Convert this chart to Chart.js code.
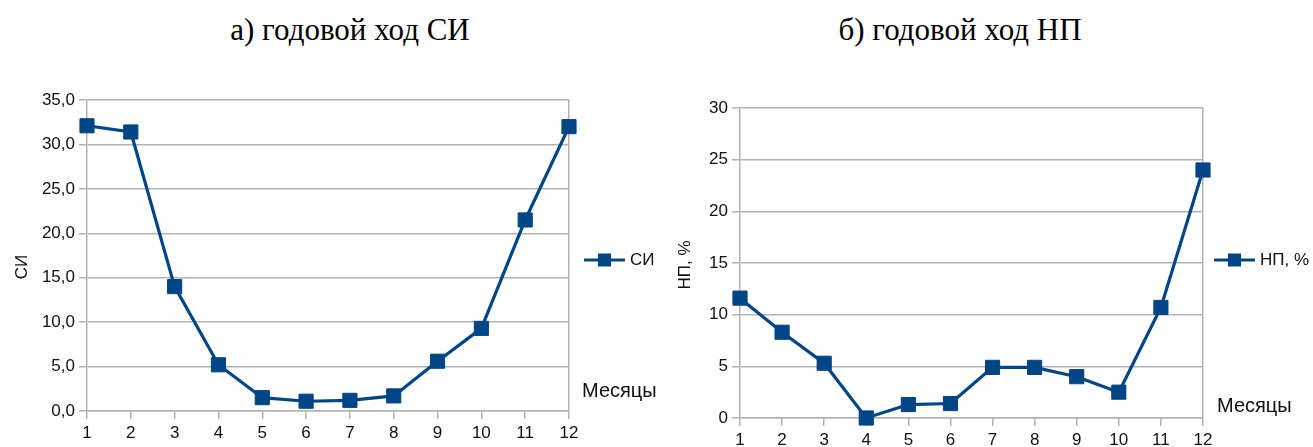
<!DOCTYPE html>
<html>
<head>
<meta charset="utf-8">
<script src="https://cdn.jsdelivr.net/npm/chart.js@4.4.0/dist/chart.umd.min.js"></script>
<style>
  body { margin: 0; background: #fff; }
  #page { position: relative; width: 1313px; height: 447px; overflow: hidden; }
  .title {
    position: absolute; top: 12px; width: 400px; text-align: center;
    font-family: "Liberation Serif", "Times New Roman", serif; font-size: 31px; color: #000;
  }
  .box { position: absolute; top: 0; height: 447px; }
</style>
</head>
<body>
<div id="page">
  <div class="title" style="left: 150px">а) годовой ход СИ</div>
  <div class="title" style="left: 760px">б) годовой ход НП</div>
  <div class="box" style="left: 0; width: 660px"><canvas id="siChart"></canvas></div>
  <div class="box" style="left: 656px; width: 657px"><canvas id="npChart"></canvas></div>
</div>
<script>
const months = ["1", "2", "3", "4", "5", "6", "7", "8", "9", "10", "11", "12"];
const siValues = [32.1, 31.4, 14.0, 5.2, 1.5, 1.1, 1.2, 1.7, 5.6, 9.3, 21.5, 32.0];
const npValues = [11.6, 8.3, 5.3, 0, 1.3, 1.4, 4.9, 4.9, 4.0, 2.5, 10.7, 24.0];
const siTicks = { min: 0, max: 35, step: 5 };
const npTicks = { min: 0, max: 30, step: 5 };

const lineColor = "#004586";
const gridColor = "#b3b3b3";
const textFont = "Liberation Sans";

// legend, axis title and "Месяцы" caption, drawn in LibreOffice style
const extrasPlugin = {
  id: "extras",
  afterDraw(chart, args, opts) {
    const ctx = chart.ctx;
    const ds = chart.data.datasets[0];
    ctx.save();
    ctx.font = "17px " + textFont;
    ctx.fillStyle = "#111";
    ctx.textBaseline = "middle";

    // legend
    ctx.strokeStyle = lineColor;
    ctx.lineWidth = 3;
    ctx.beginPath();
    ctx.moveTo(opts.legendX, opts.legendY);
    ctx.lineTo(opts.legendX + 41, opts.legendY);
    ctx.stroke();
    ctx.fillStyle = lineColor;
    ctx.fillRect(opts.legendX + 14, opts.legendY - 6.5, 13, 13);
    ctx.fillStyle = "#111";
    ctx.textAlign = "left";
    ctx.fillText(ds.label, opts.legendX + 46, opts.legendY);

    // x caption
    ctx.font = "20px " + textFont;
    ctx.fillText("Месяцы", opts.captionX, opts.captionY);

    // y title
    ctx.font = "17px " + textFont;
    ctx.translate(opts.titleX, opts.titleY);
    ctx.rotate(-Math.PI / 2);
    ctx.textAlign = "center";
    ctx.fillText(opts.yTitle, 0, 0);
    ctx.restore();
  },
};

function makeChart(canvasId, label, values, range, fmt, area, extras) {
  const ctx = document.getElementById(canvasId).getContext("2d");
  return new Chart(ctx, {
    type: "line",
    data: {
      labels: months,
      datasets: [
        {
          label: label,
          data: values,
          borderColor: lineColor,
          backgroundColor: lineColor,
          borderWidth: 3.2,
          pointStyle: "rect",
          pointRadius: 10,
          pointHoverRadius: 10,
          pointBorderWidth: 1,
          pointBackgroundColor: lineColor,
          pointBorderColor: lineColor,
          tension: 0,
          clip: false,
        },
      ],
    },
    options: {
      responsive: true,
      maintainAspectRatio: false,
      animation: false,
      layout: {
        padding: { top: area.top, right: area.right, left: 0, bottom: 0 },
      },
      plugins: {
        legend: { display: false },
        tooltip: { enabled: false },
        extras: extras,
      },
      scales: {
        x: {
          type: "category",
          offset: false,
          afterFit: (s) => { s.height = area.xHeight; },
          grid: {
            color: (c) => (c.index === months.length - 1 ? gridColor : "rgba(0,0,0,0)"),
            tickColor: gridColor,
            tickLength: 8,
            lineWidth: 1.5,
          },
          border: { color: gridColor, width: 1.5 },
          ticks: {
            autoSkip: false,
            maxRotation: 0,
            padding: 4,
            color: "#111",
            font: { family: textFont, size: 17 },
          },
        },
        y: {
          min: range.min,
          max: range.max,
          afterFit: (s) => { s.width = area.yWidth; },
          grid: { color: gridColor, tickColor: gridColor, tickLength: 8, lineWidth: 1.5 },
          border: { color: gridColor, width: 1.5 },
          ticks: {
            stepSize: range.step,
            padding: 4,
            color: "#111",
            font: { family: textFont, size: 17 },
            callback: fmt,
          },
        },
      },
    },
    plugins: [extrasPlugin],
  });
}

makeChart(
  "siChart",
  "СИ",
  siValues,
  siTicks,
  (v) => v.toFixed(1).replace(".", ","),
  { top: 100, right: 91, yWidth: 87, xHeight: 36 },
  { legendX: 584, legendY: 260, captionX: 582, captionY: 391, titleX: 22, titleY: 267, yTitle: "СИ" }
);

makeChart(
  "npChart",
  "НП, %",
  npValues,
  npTicks,
  (v) => String(v),
  { top: 108, right: 110, yWidth: 84, xHeight: 29 },
  { legendX: 558, legendY: 260, captionX: 561, captionY: 406, titleX: 29, titleY: 265, yTitle: "НП, %" }
);
</script>
</body>
</html>
